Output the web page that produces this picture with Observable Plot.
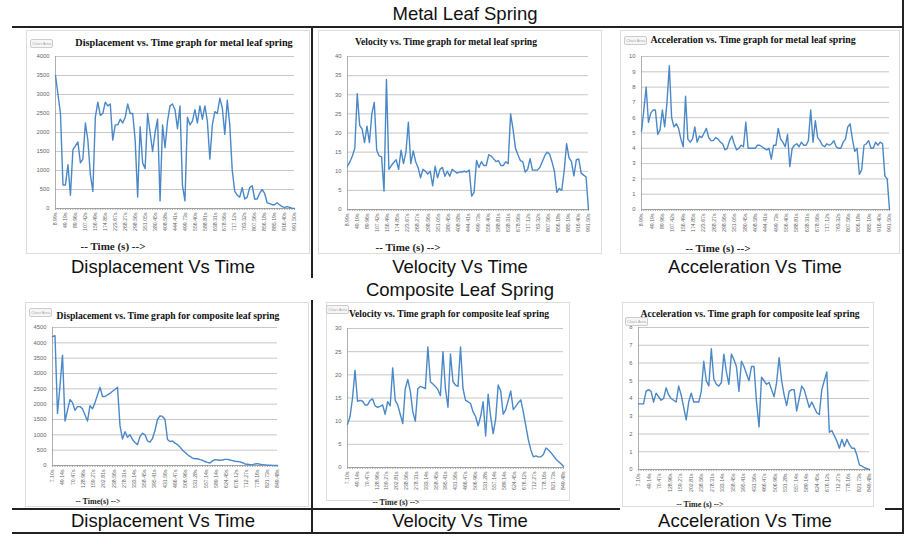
<!DOCTYPE html>
<html><head><meta charset="utf-8">
<script src="https://cdn.jsdelivr.net/npm/d3@7"></script>
<script src="https://cdn.jsdelivr.net/npm/@observablehq/plot@0.6"></script>
<style>
body{margin:0;background:#fff;}
#page{position:relative;width:918px;height:544px;overflow:hidden;background:#fff;font-family:"Liberation Sans",Arial,sans-serif;}
.hl{position:absolute;background:#222;height:2px;}
.vl{position:absolute;background:#222;width:2px;}
.big{position:absolute;font-size:18.5px;color:#111;white-space:nowrap;transform:translate(-50%,-50%);}
.ct{position:absolute;font-family:"Liberation Serif","Times New Roman",serif;font-weight:bold;white-space:nowrap;color:#111;transform:translate(-50%,-50%);}
.xl{position:absolute;font-family:"Liberation Serif","Times New Roman",serif;font-weight:bold;white-space:nowrap;color:#222;transform:translate(-50%,-50%);}
.frame{position:absolute;border:1px solid #dcdcdc;}
.ca{position:absolute;font-size:4px;color:#aaa;border:1px solid #ccc;padding:1px 1px;border-radius:2px;background:#f6f6f6;line-height:5px;}
.chart{position:absolute;}
</style></head>
<body><div id="page"></div>
<script>
// ---------- data ----------
const metalTimeLabels = ["8.99s","49.19s","89.96s","107.42s","156.49s","174.85s","223.67s","268.27s","298.56s","351.05s","380.45s","408.58s","444.41s","499.73s","556.40s","588.81s","638.31s","678.56s","717.12s","763.32s","807.56s","856.18s","885.19s","916.40s","991.50s"];
const compTimeLabels = ["7.10s","49.14s","70.47s","128.96s","159.27s","202.81s","238.56s","278.31s","333.14s","358.45s","395.41s","431.56s","466.47s","506.96s","531.28s","557.14s","589.14s","624.45s","676.12s","712.27s","778.16s","821.73s","849.48s"];

const metalDisp = [3500,3000,2500,620,620,1150,350,1550,1650,1750,1200,1300,2250,1800,900,450,2400,2800,2450,2500,2800,2700,2750,1800,2200,2200,2350,2250,2400,2750,2500,2500,1800,300,2150,1200,1050,2500,2000,1500,2000,2350,200,2200,1600,2300,2700,2750,2600,2100,2700,600,200,2400,2200,2300,2600,2250,2700,2350,2700,2300,1300,2200,2550,2500,2900,2650,1950,2850,2200,1000,450,350,300,550,250,300,550,600,250,250,400,500,400,150,130,100,100,150,100,50,30,50,30,10,0];
const metalVel = [11.3,12.5,14,16,30.3,22,21,17.5,21.8,17.5,25,28,15.5,14,13.8,4.8,34,10.5,11.5,12.3,13,10.5,15.5,12,15,22.8,12,15.3,12.5,11,8.3,10.5,10,9.3,10,6.2,11.3,8.3,10.5,11,8.7,10,8.7,10.5,10,9.5,9.8,9.8,10,9.8,10.3,3.5,4.5,12.8,11,12.5,11.5,11.5,14.3,14,13.3,12.5,12.8,11.5,11.5,12.5,12,25,21,16,14.3,12.8,12.5,9.8,10.5,13.3,10.3,10.3,10.3,11,12.5,14,15,14.5,12.5,10,4.5,5.5,5,10,17.2,13.5,12.5,8.8,13,13.2,9.5,9,8.5,0];
const metalAcc = [5.1,6.5,8,5.7,6.3,6.5,6.5,4.9,5.2,6.5,5.4,7,9.4,6,5.4,5.6,5.3,4.6,4.1,7.4,4.6,4.4,4.6,5.4,4.4,4.8,4.7,5,5.3,4.7,4.5,4.5,4.7,4.6,4.4,4.3,3.9,4,4.5,4.8,4.3,3.9,4,4.2,4.1,5.7,4,4,4,4,4.2,4.2,4.1,4,3.9,4,3.3,4.2,4.2,5.3,4.6,4.4,4.1,4.9,2.8,4,4.2,4.3,4.1,4.4,4.2,4.2,4.5,6.5,4.4,5.8,4.7,4.5,4.2,4.1,4.3,4.2,4.3,4.5,4.1,4,4,4.4,4.6,5.4,5.6,4.6,3.8,4,2.3,2.6,4.2,4.3,4.5,4,4,4.4,4.2,4.4,4.3,2.2,2,0];
const compDisp = [4200,4230,1700,2600,3600,1450,1800,2150,2050,1800,1920,1920,1850,1650,1450,1950,1850,2050,2300,2550,2250,2250,2300,2350,2420,2480,2550,1300,860,1100,920,1000,850,750,680,950,1050,1000,800,760,880,1150,1500,1620,1600,1500,850,780,800,730,680,600,500,430,350,300,240,220,220,190,170,130,100,80,150,190,180,170,180,200,200,180,160,140,130,120,90,50,40,30,20,50,60,40,30,20,10,10,5,0,0];
const compVel = [9.3,11,15,21,14.3,14.5,14.3,13.5,13.5,14.5,14.8,13.3,13,13.2,13.5,11.5,14.2,13.3,21.5,14.5,13.5,11.5,9.5,17,19,16.5,12,10,17,17.5,17.3,17,26,18.5,18,17.5,16.8,15.5,25,17,13,24.5,18.5,17.8,17.5,26,17,14.5,14.2,13.8,12,11,9,11,14.2,6.8,15.8,11,7.3,10.5,17.8,16.5,11.5,12.5,14.5,16.5,12.5,13.2,14,14.6,12,9,6,3.8,2.3,2.5,2.3,2.3,2.8,4.2,3.8,3.2,2.5,1.8,1.3,0.8,0.2];
const compAcc = [3.7,3.7,3.7,4.4,4.5,4.4,3.8,4.3,4.1,3.9,4.0,4.6,4.2,4.0,3.9,3.8,4.7,4.2,3.5,2.8,3.8,4.3,3.8,3.8,3.8,4.4,6.1,5.0,4.7,6.8,5.1,4.8,4.7,4.9,6.5,5.5,4.8,6.5,6.2,5.8,4.4,6.1,5.8,5.4,5.0,5.8,5.8,3.8,2.4,5.2,5.0,4.8,4.9,4.5,4.1,4.9,6.3,5.0,4.2,3.6,4.4,4.5,4.5,3.3,4.0,4.7,4.5,4.0,3.5,3.8,3.5,3.2,3.1,4.5,5.0,5.5,2.1,2.2,1.9,1.6,1.2,1.7,1.3,1.7,1.4,1.2,1.2,0.8,0.25,0.2,0.1,0.05,0];

const sectionTitles = ["Metal  Leaf Spring","Composite Leaf Spring"];
const panelNames = ["Displacement Vs Time","Velocity Vs Time","Acceleration Vs Time"];
const chartTitles = [
  "Displacement vs. Time graph  for metal leaf spring",
  "Velocity vs. Time graph for metal leaf spring",
  "Acceleration vs. Time graph for metal leaf spring",
  "Displacement vs. Time graph for composite leaf spring",
  "Velocity vs. Time graph for composite leaf spring",
  "Acceleration vs. Time graph for composite leaf spring"
];
const axisTitles = ["-- Time (s) -->","-- Time (s) -->","-- Time (s) -->","-- Time(s) -->","-- Time (s) -->","-- Time (s) -->"];

// ---------- layout ----------
const page = document.getElementById("page");
function add(cls, style, text){
  const d = document.createElement("div");
  d.className = cls;
  Object.assign(d.style, style);
  if (text != null) d.textContent = text;
  page.appendChild(d);
  return d;
}
// frames
[[26,30,282,222],[318,30,282,222],[620,30,278,222],[25,302,282,203],[326,302,242,197],[622,302,250,203]]
  .forEach(([x,y,w,h]) => add("frame",{left:x+"px",top:y+"px",width:w+"px",height:h+"px"}));

const panels = [
  {data:metalDisp, labels:metalTimeLabels, yMax:4000, yStep:500, L:55, R:294, T:56, B:208, tx:184, ty:42, tfs:10.2, xx:113, xy:246, xfs:11, ca:[30,39]},
  {data:metalVel,  labels:metalTimeLabels, yMax:40,   yStep:5,   L:347,R:588, T:56, B:209, tx:446, ty:41, tfs:9.6, xx:408, xy:247, xfs:11, ca:null},
  {data:metalAcc,  labels:metalTimeLabels, yMax:10,   yStep:1,   L:641,R:889, T:56, B:209, tx:753, ty:39, tfs:9.8, xx:718, xy:248, xfs:11, ca:[624,36]},
  {data:compDisp,  labels:compTimeLabels,  yMax:4500, yStep:500, L:52, R:277, T:327,B:465, tx:168, ty:315, tfs:9.6, xx:98, xy:501, xfs:8, ca:[29,308]},
  {data:compVel,   labels:compTimeLabels,  yMax:30,   yStep:5,   L:347,R:563, T:328,B:467, tx:449, ty:313, tfs:9.6, xx:396, xy:502, xfs:8, ca:[326,305]},
  {data:compAcc,   labels:compTimeLabels,  yMax:8,    yStep:1,   L:638,R:869, T:327,B:469, tx:750, ty:313, tfs:9.6, xx:700, xy:504, xfs:8, ca:[625,317]}
];

const ml = 28, mr = 4, mt = 4, mb = 40;
panels.forEach((p, k) => {
  const n = p.data.length;
  const rows = p.data.map((v, i) => ({i, v}));
  const nl = p.labels.length;
  const tickPos = p.labels.map((_, j) => j * (n - 1) / (nl - 1));
  const yt = d3.range(0, p.yMax + p.yStep / 2, p.yStep);
  const chart = Plot.plot({
    width: (p.R - p.L) + ml + mr,
    height: (p.B - p.T) + mt + mb,
    marginLeft: ml, marginRight: mr, marginTop: mt, marginBottom: mb,
    style: {background: "transparent", overflow: "visible", fontFamily: "'Liberation Sans', Arial, sans-serif"},
    x: {domain: [0, n - 1]},
    y: {domain: [0, p.yMax]},
    marks: [
      Plot.gridY(yt, {stroke: "#b9b9b9", strokeOpacity: 1, strokeWidth: 0.8}),
      Plot.axisY({ticks: yt, tickSize: 0, tickPadding: 6, fontSize: 5.8, fill: "#666", label: null, tickFormat: (d) => String(d)}),
      Plot.axisX({ticks: d3.range(n), tickSize: 2, stroke: "#aaa", tickFormat: () => "", label: null}),
      Plot.axisX({ticks: tickPos, tickSize: 0, tickPadding: 4, tickRotate: -90, fontSize: 5.2, fill: "#666",
                  tickFormat: (d) => p.labels[Math.round(d * (nl - 1) / (n - 1))], label: null}),
      Plot.ruleX([0], {stroke: "#999", strokeWidth: 0.8}),
      Plot.ruleY([0], {stroke: "#999", strokeWidth: 0.8}),
      Plot.line(rows, {x: "i", y: "v", stroke: "#4a88c7", strokeWidth: 1.4})
    ]
  });
  const wrap = add("chart", {left: (p.L - ml) + "px", top: (p.T - mt) + "px"});
  wrap.appendChild(chart);
  add("ct", {left: p.tx + "px", top: p.ty + "px", fontSize: p.tfs + "px"}, chartTitles[k]);
  add("xl", {left: p.xx + "px", top: p.xy + "px", fontSize: p.xfs + "px"}, axisTitles[k]);
  if (p.ca) add("ca", {left: p.ca[0] + "px", top: p.ca[1] + "px"}, "Chart Area");
});

// structure lines
add("hl", {left:"12px", top:"26px", width:"892px"});
add("vl", {left:"311px", top:"27px", height:"251px"});
add("vl", {left:"902px", top:"0px", height:"534px"});
add("hl", {left:"12px", top:"508px", width:"608px"});
add("hl", {left:"885px", top:"508px", width:"18px"});
add("vl", {left:"311px", top:"300px", height:"233px"});
add("hl", {left:"12px", top:"532px", width:"892px"});

// big labels
add("big", {left:"465px", top:"14px"}, sectionTitles[0]);
add("big", {left:"460px", top:"290px"}, sectionTitles[1]);
[163, 460, 755].forEach((x, j) => add("big", {left: x + "px", top: "267px"}, panelNames[j]));
[163, 460, 745].forEach((x, j) => add("big", {left: x + "px", top: "521px"}, panelNames[j]));
</script>
</body></html>
